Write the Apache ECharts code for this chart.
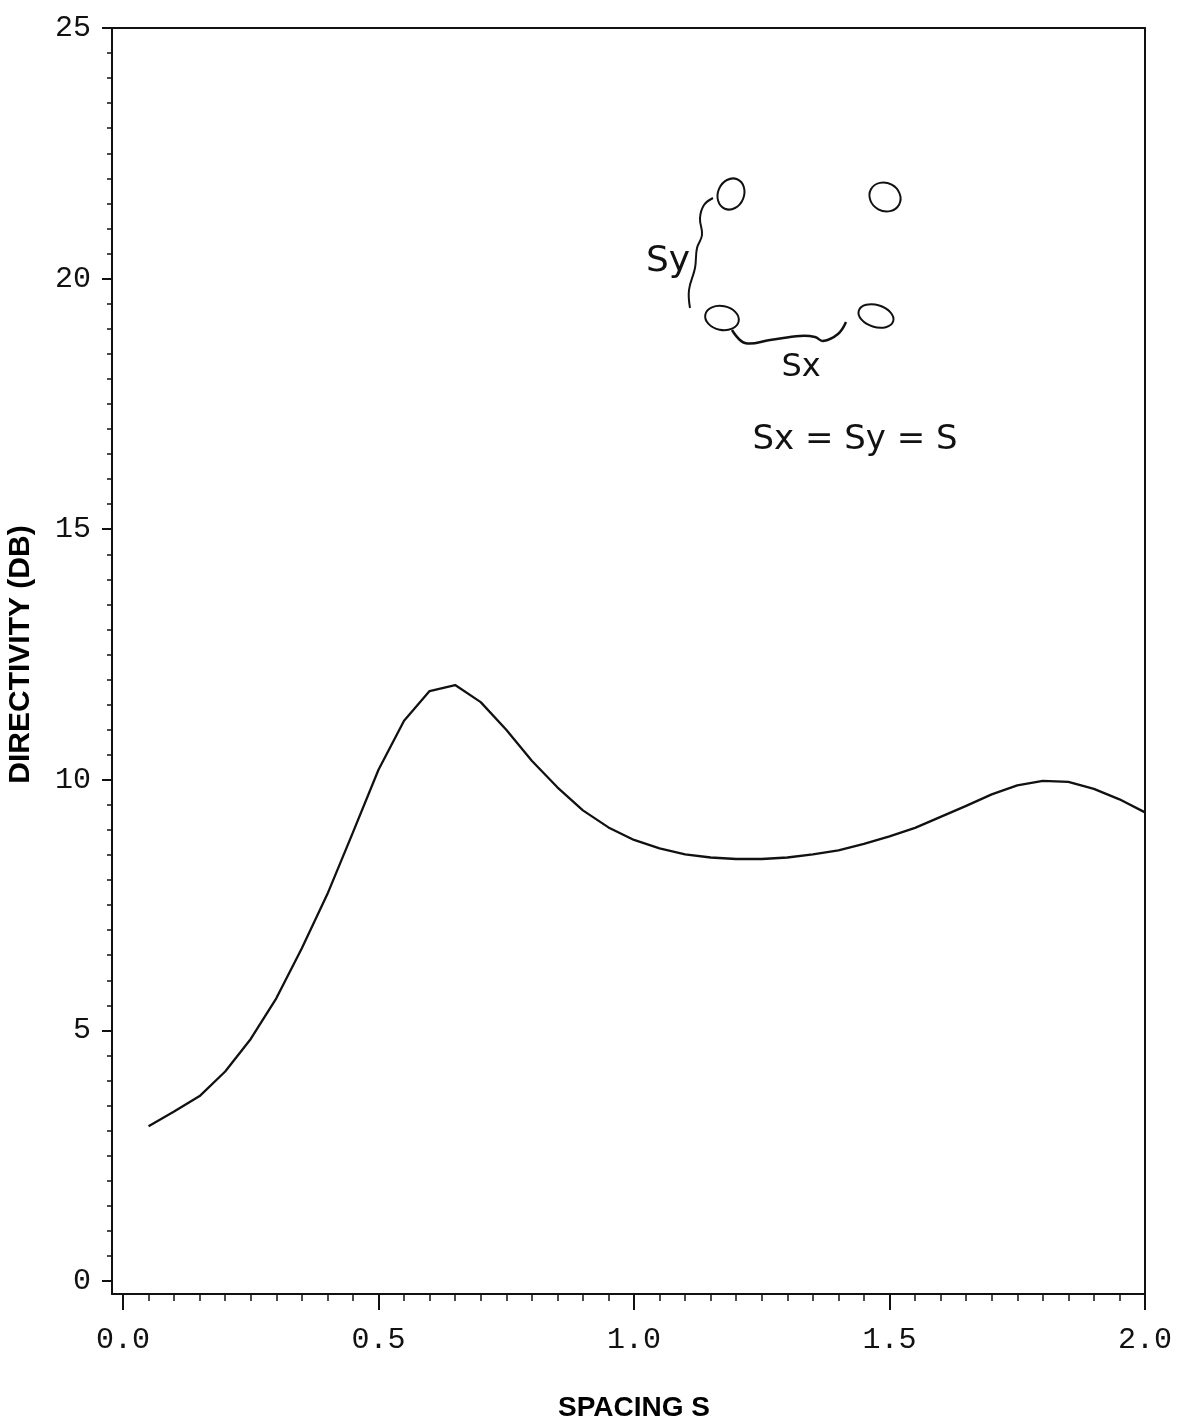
<!DOCTYPE html>
<html>
<head>
<meta charset="utf-8">
<script src="https://cdn.jsdelivr.net/npm/echarts@6/dist/echarts.min.js"></script>
<style>
html,body{margin:0;padding:0;background:#fff;}
#chart{width:1178px;height:1418px;}
</style>
</head>
<body>
<div id="chart"></div>
<script>
// ---- data ----
const spacing = [0.05,0.10,0.15,0.20,0.25,0.30,0.35,0.40,0.45,0.50,
                 0.55,0.60,0.65,0.70,0.75,0.80,0.85,0.90,0.95,1.00,
                 1.05,1.10,1.15,1.20,1.25,1.30,1.35,1.40,1.45,1.50,
                 1.55,1.60,1.65,1.70,1.75,1.80,1.85,1.90,1.95,2.00];
const directivity = [3.09,3.38,3.69,4.18,4.83,5.64,6.64,7.72,8.95,10.20,
                     11.18,11.77,11.89,11.55,11.00,10.38,9.85,9.39,9.05,8.80,
                     8.63,8.51,8.45,8.42,8.42,8.45,8.51,8.59,8.72,8.87,
                     9.04,9.26,9.48,9.71,9.89,9.98,9.96,9.82,9.61,9.35];
const xTicks = [0.0,0.5,1.0,1.5,2.0];
const yTicks = [0,5,10,15,20,25];
const xTitle = 'SPACING S';
const yTitle = 'DIRECTIVITY (DB)';

const INK = '#111';
const seriesData = spacing.map((s,i)=>[s,directivity[i]]);

const chart = echarts.init(document.getElementById('chart'), null, {renderer:'canvas'});

const frameAxis = (pos) => ({
  gridIndex:1, type:'value', min:0, max:1, position:pos,
  axisLine:{show:true, onZero:false, lineStyle:{color:INK, width:2}},
  axisTick:{show:false}, axisLabel:{show:false}, splitLine:{show:false}
});

const option = {
  backgroundColor:'#fff',
  animation:false,
  grid:[
    {left:123, right:33, top:28, bottom:137, containLabel:false, outerBoundsMode:'none'},
    {left:112, right:33, top:28, bottom:124, containLabel:false, outerBoundsMode:'none'}
  ],
  xAxis:[
    {
      gridIndex:0, type:'value', min:xTicks[0], max:xTicks[xTicks.length-1], interval:0.5,
      position:'bottom', offset:13,
      axisLine:{show:false, onZero:false},
      axisTick:{show:true, length:16, lineStyle:{color:INK, width:2}},
      minorTick:{show:true, splitNumber:10, length:7, lineStyle:{color:INK, width:1.5}},
      splitLine:{show:false}, minorSplitLine:{show:false},
      axisLabel:{formatter:v=>v.toFixed(1), fontFamily:'Liberation Mono', fontSize:30, color:INK, margin:31},
      name:xTitle, nameLocation:'middle', nameGap:100,
      nameTextStyle:{fontFamily:'Liberation Sans', fontWeight:'bold', fontSize:28, color:'#000'}
    },
    frameAxis('bottom'),
    frameAxis('top')
  ],
  yAxis:[
    {
      gridIndex:0, type:'value', min:yTicks[0], max:yTicks[yTicks.length-1], interval:5,
      position:'left', offset:11,
      axisLine:{show:false, onZero:false},
      axisTick:{show:true, length:10, lineStyle:{color:INK, width:2}},
      minorTick:{show:true, splitNumber:10, length:5, lineStyle:{color:INK, width:1.5}},
      splitLine:{show:false}, minorSplitLine:{show:false},
      axisLabel:{fontFamily:'Liberation Mono', fontSize:30, color:INK, margin:21},
      name:yTitle, nameLocation:'middle', nameGap:76,
      nameTextStyle:{fontFamily:'Liberation Sans', fontWeight:'bold', fontSize:30, color:'#000'}
    },
    frameAxis('left'),
    frameAxis('right')
  ],
  series:[{
    type:'line', xAxisIndex:0, yAxisIndex:0, data:seriesData,
    showSymbol:false, symbol:'none', smooth:false,
    lineStyle:{color:INK, width:2.3}
  }],
  graphic:[
    {type:'ellipse', shape:{cx:731, cy:194, rx:13, ry:16}, rotation:-0.4, originX:731, originY:194, style:{fill:null, stroke:INK, lineWidth:2}},
    {type:'ellipse', shape:{cx:885, cy:197, rx:16, ry:14}, rotation:-0.5, originX:885, originY:197, style:{fill:null, stroke:INK, lineWidth:2}},
    {type:'ellipse', shape:{cx:722, cy:318, rx:17, ry:12}, rotation:-0.2, originX:722, originY:318, style:{fill:null, stroke:INK, lineWidth:2}},
    {type:'ellipse', shape:{cx:876, cy:316, rx:18, ry:11}, rotation:-0.3, originX:876, originY:316, style:{fill:null, stroke:INK, lineWidth:2}},
    {type:'polyline', shape:{points:[[713,198],[704,205],[700,218],[702,235],[697,248],[695,268],[689,290],[690,308]], smooth:0.4}, style:{fill:null, stroke:INK, lineWidth:2}},
    {type:'polyline', shape:{points:[[732,330],[745,343],[770,340],[800,336],[815,337],[823,341],[838,334],[846,322]], smooth:0.4}, style:{fill:null, stroke:INK, lineWidth:2.5}},
    {type:'text', style:{text:'Sy', x:668, y:262, align:'center', verticalAlign:'middle', font:'36px "DejaVu Sans"', fill:INK}},
    {type:'text', style:{text:'Sx', x:801, y:368, align:'center', verticalAlign:'middle', font:'32px "DejaVu Sans"', fill:INK}},
    {type:'text', style:{text:'Sx = Sy = S', x:855, y:440, align:'center', verticalAlign:'middle', font:'34px "DejaVu Sans"', fill:INK}}
  ]
};
chart.setOption(option);
</script>
</body>
</html>
